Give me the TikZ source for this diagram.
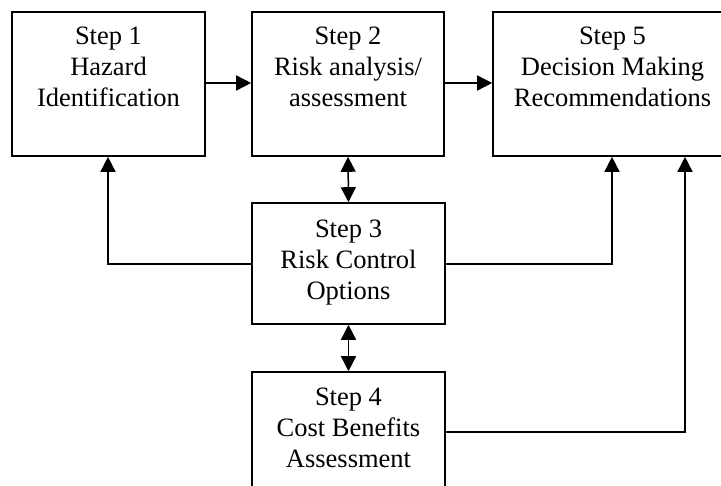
\documentclass[tikz,border=0pt]{standalone}
\usepackage{fontspec}
\setmainfont{Liberation Serif}
\usetikzlibrary{arrows.meta,calc}
\begin{document}
\begin{tikzpicture}[x=1pt,y=-1pt,
  boxshape/.style={draw, line width=1.6pt, rectangle, inner sep=0pt},
  txt/.style={font=\fontsize{26.5}{31}\selectfont, align=center, inner sep=0pt, anchor=north},
  conn/.style={line width=1.5pt, -{Triangle[length=15pt,width=15pt]}},
  dconn/.style={line width=1.5pt, {Triangle[length=15pt,width=15pt]}-{Triangle[length=15pt,width=15pt]}},
  plain/.style={line width=1.5pt}]
\useasboundingbox (0,0) rectangle (721,486);
% boxes
\node[boxshape, minimum width=193pt, minimum height=144pt] (b1) at (108.5,84) {};
\node[boxshape, minimum width=192pt, minimum height=144pt] (b2) at (348,84) {};
\node[boxshape, minimum width=239pt, minimum height=144pt] (b5) at (612.5,84) {};
\node[boxshape, minimum width=193pt, minimum height=121pt] (b3) at (348.5,263.5) {};
\node[boxshape, minimum width=193pt, minimum height=140pt] (b4) at (348.5,442) {};
% texts
\node[txt] (t1) at ($(b1.north)+(0,16)$) {Step 1\\Hazard\\Identification};
\node[txt] (t2) at ($(b2.north)+(0,16)$) {Step 2\\Risk analysis/\\assessment};
\node[txt] (t5) at ($(b5.north)+(0,16)$) {Step 5\\Decision Making\\Recommendations};
\node[txt] (t3) at ($(b3.north)+(0,18)$) {Step 3\\Risk Control\\Options};
\node[txt] (t4) at ($(b4.north)+(0,17)$) {Step 4\\Cost Benefits\\Assessment};
% connection points
\coordinate (c1) at (108,264);
\coordinate (c5) at (612,264);
\coordinate (c4) at (685,432);
% connectors
\draw[conn] (b1.east |- 0,83) -- (b2.west |- 0,83);
\draw[conn] (b2.east |- 0,83) -- (b5.west |- 0,83);
\draw[dconn] (b2.south) -- (b3.north);
\draw[dconn] (b3.south) -- (b4.north);
\draw[conn] (b3.west |- c1) -- (c1) -- (c1 |- b1.south);
\draw[conn] (b3.east |- c5) -- (c5) -- (c5 |- b5.south);
\draw[conn] (b4.east |- c4) -- (c4) -- (c4 |- b5.south);
\end{tikzpicture}
\end{document}
